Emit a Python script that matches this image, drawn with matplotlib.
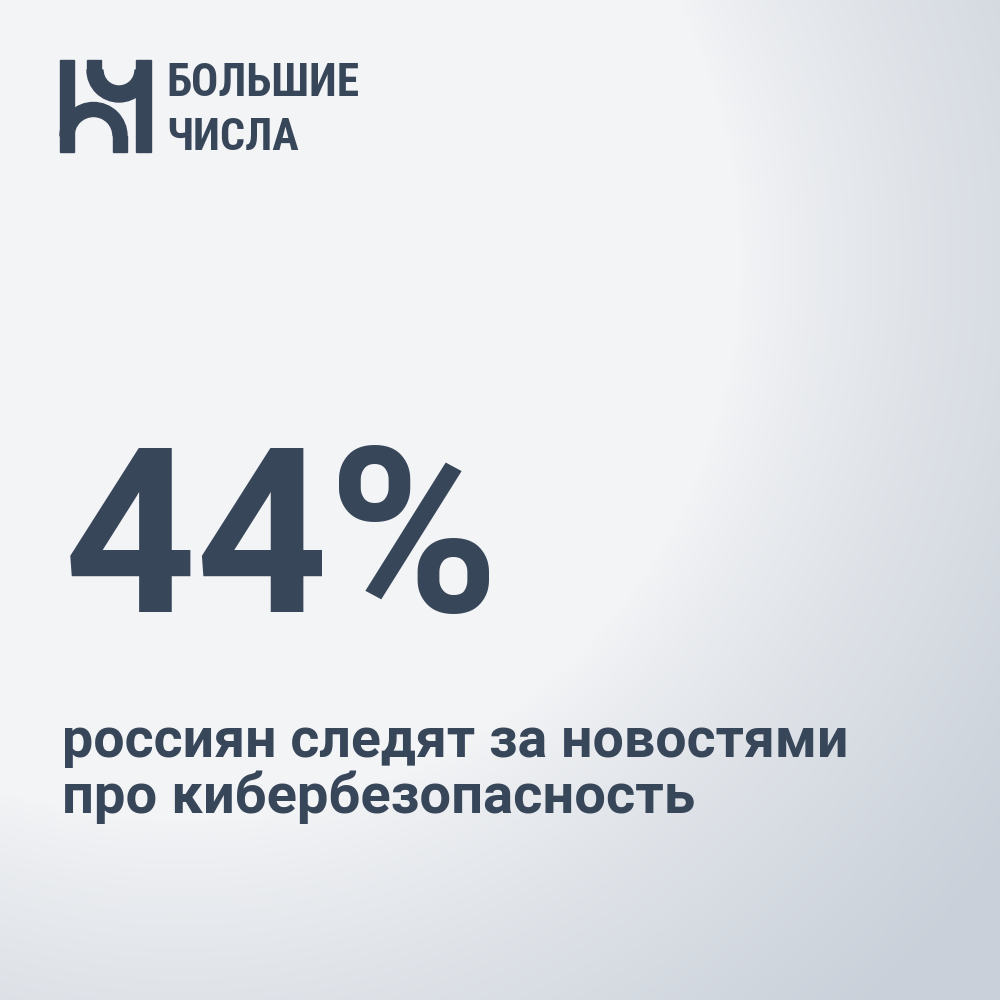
import numpy as np
import matplotlib
matplotlib.use("Agg")
import matplotlib.pyplot as plt
from matplotlib import font_manager
from matplotlib.patches import Rectangle, Wedge

# ---- content
brand_lines = ["БОЛЬШИЕ", "ЧИСЛА"]
share_value = 44
subtitle_lines = ["россиян следят за новостями", "про кибербезопасность"]

ink = "#38465a"
bg_light = np.array([243, 244, 246]) / 255.0
bg_dark = np.array([201, 208, 217]) / 255.0


def have_font(name, weight="bold"):
    try:
        font_manager.findfont(font_manager.FontProperties(family=name, weight=weight),
                              fallback_to_default=False)
        return True
    except Exception:
        return False


narrow = "DejaVu Sans"
for cand in ["Roboto Condensed", "Liberation Sans Narrow", "DejaVu Sans Condensed"]:
    if have_font(cand):
        narrow = cand
        break
main_font = "Roboto" if have_font("Roboto") else "DejaVu Sans"

fig = plt.figure(figsize=(10, 10), dpi=100)
ax = fig.add_axes([0, 0, 1, 1])
ax.set_xlim(0, 1000)
ax.set_ylim(1000, 0)
ax.axis("off")

# ---- background: light spot upper left, grey towards lower right
yy, xx = np.mgrid[0:1000, 0:1000]
d = np.hypot(xx - 180, yy - 260)
t = np.clip((d - 560) / 460.0, 0, 1) ** 0.8
img = bg_light[None, None, :] * (1 - t[..., None]) + bg_dark[None, None, :] * t[..., None]
ax.imshow(img, extent=(0, 1000, 1000, 0), zorder=0, interpolation="bilinear")

# ---- logo mark
ax.add_patch(Rectangle((60, 60), 14, 92, color=ink, zorder=2))
ax.add_patch(Rectangle((136, 60), 15, 92, color=ink, zorder=2))
ax.add_patch(Rectangle((87, 60), 14, 10, color=ink, zorder=2))
ax.add_patch(Wedge((119, 70), 32, 0, 180, width=16, color=ink, zorder=2))
ax.add_patch(Rectangle((113, 136), 14, 16, color=ink, zorder=2))
ax.add_patch(Wedge((93.5, 136), 33.5, 180, 360, width=14, color=ink, zorder=2))

# ---- texts
b1 = ax.text(166, 96, brand_lines[0], fontsize=30, family=narrow, weight="bold",
             stretch="condensed", color=ink, ha="left", va="baseline", zorder=3)
b2 = ax.text(166, 150, brand_lines[1], fontsize=30, family=narrow, weight="bold",
             stretch="condensed", color=ink, ha="left", va="baseline", zorder=3)

big = ax.text(64, 612, f"{share_value}%", fontsize=170, family=main_font, weight="bold",
              color=ink, ha="left", va="baseline", zorder=3)

s1 = ax.text(62, 757, subtitle_lines[0], fontsize=38, family=main_font, weight="bold",
             color=ink, ha="left", va="baseline", zorder=3)
s2 = ax.text(62, 813, subtitle_lines[1], fontsize=38, family=main_font, weight="bold",
             color=ink, ha="left", va="baseline", zorder=3)

# scale font sizes so the widths match the card
fig.canvas.draw()
r = fig.canvas.get_renderer()
for txt, w in [(b1, 193), (b2, 133), (big, 436), (s1, 786), (s2, 634)]:
    bb = txt.get_window_extent(r)
    txt.set_fontsize(txt.get_fontsize() * w / bb.width)

fig.savefig("out.png", dpi=100)
